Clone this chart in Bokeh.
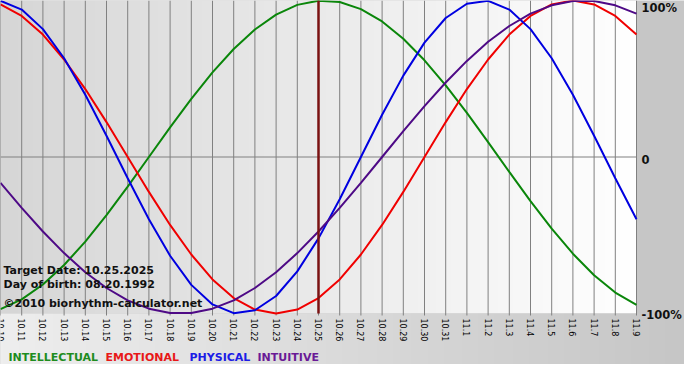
import math
import numpy as np
from bokeh.plotting import figure
from bokeh.models import Range1d
from bokeh.core.properties import value
from bokeh.embed import file_html
from bokeh.resources import INLINE

# ---- data ----
dates = ["10.10", "10.11", "10.12", "10.13", "10.14", "10.15", "10.16", "10.17",
         "10.18", "10.19", "10.20", "10.21", "10.22", "10.23", "10.24", "10.25",
         "10.26", "10.27", "10.28", "10.29", "10.30", "10.31", "11.1", "11.2",
         "11.3", "11.4", "11.5", "11.6", "11.7", "11.8", "11.9"]

intellectual = [-0.972, -0.910, -0.815, -0.690, -0.541, -0.372, -0.189, 0.0, 0.189,
                0.372, 0.541, 0.690, 0.815, 0.910, 0.972, 0.999, 0.990, 0.945, 0.866,
                0.756, 0.618, 0.458, 0.282, 0.095, -0.095, -0.282, -0.458, -0.618,
                -0.756, -0.866, -0.945]
emotional = [0.975, 0.901, 0.782, 0.623, 0.434, 0.223, 0.0, -0.223, -0.434, -0.623,
             -0.782, -0.901, -0.975, -1.0, -0.975, -0.901, -0.782, -0.623, -0.434,
             -0.223, 0.0, 0.223, 0.434, 0.623, 0.782, 0.901, 0.975, 1.0, 0.975,
             0.901, 0.782]
physical = [0.998, 0.942, 0.817, 0.631, 0.398, 0.136, -0.136, -0.398, -0.631, -0.817,
            -0.942, -0.998, -0.979, -0.888, -0.731, -0.520, -0.270, 0.0, 0.270, 0.520,
            0.731, 0.888, 0.979, 0.998, 0.942, 0.817, 0.631, 0.398, 0.136, -0.136,
            -0.398]
intuitive = [-0.165, -0.325, -0.476, -0.614, -0.736, -0.837, -0.916, -0.969, -0.997,
             -0.997, -0.969, -0.916, -0.837, -0.736, -0.614, -0.476, -0.325, -0.165,
             0.0, 0.165, 0.325, 0.476, 0.614, 0.736, 0.837, 0.916, 0.969, 0.997,
             0.997, 0.969, 0.916]

target_date = "10.25"
target_text = "Target Date: 10.25.2025"
birth_text = "Day of birth: 08.20.1992"
copyright_text = "\u00a92010 biorhythm-calculator.net"
y_labels = ["100%", "0", "-100%"]
legend_names = ["INTELLECTUAL", "EMOTIONAL", "PHYSICAL", "INTUITIVE"]
line_colors = ["#0a860a", "#f00000", "#0000e0", "#4e0a86"]
legend_colors = ["#1e8c1e", "#e81818", "#1c1ce6", "#6a1a96"]
all_series = [intellectual, emotional, physical, intuitive]

# ---- layout (pixels) ----
W, H = 684, 364
PW, PH = 636, 313          # plot area size, top-left at canvas origin
N = len(dates) - 1
FONT = value("DejaVu Sans")


def xd(px):
    return px * N / PW


def yd(py):
    return 1 - 2 * py / PH


x = list(range(len(dates)))

p = figure(width=W, height=H, output_backend="svg", toolbar_location=None,
           x_range=Range1d(0, xd(W)), y_range=Range1d(yd(H), 1),
           x_axis_location=None, y_axis_location=None,
           min_border=0, min_border_left=0, min_border_right=0,
           min_border_top=0, min_border_bottom=0,
           background_fill_color="#c6c6c6", border_fill_color="#c6c6c6",
           outline_line_color=None)
p.grid.visible = False


def hgrad(c0, c1, n=256):
    t = np.linspace(0, 1, n)
    g = (c0 + (c1 - c0) * t).astype(np.uint8)
    img = np.empty((1, n), dtype=np.uint32)
    v = img.view(dtype=np.uint8).reshape((1, n, 4))
    v[..., 0] = g
    v[..., 1] = g
    v[..., 2] = g
    v[..., 3] = 255
    return img


# plot-area gradient and bottom band gradient
p.image_rgba(image=[hgrad(0xd6, 0xff)], x=0, y=-1, dw=N, dh=2, level="image")
p.image_rgba(image=[hgrad(0xee, 0xc6)], x=0, y=yd(H), dw=xd(W), dh=-1 - yd(H),
             level="image")

# vertical grid lines (with small tick below the plot area)
p.segment(x0=x, y0=[yd(PH + 2)] * len(x), x1=x, y1=[1] * len(x),
          line_color="#808080", line_width=1)
# zero line
p.segment(x0=[0], y0=[0], x1=[N], y1=[0], line_color="#808080", line_width=1)

# curves
for vals, lc in zip(all_series, line_colors):
    p.line(x, vals, line_color=lc, line_width=2)

# target day line
ti = dates.index(target_date)
p.segment(x0=[ti], y0=[-1], x1=[ti], y1=[1], line_color="#7a1212", line_width=2.5)

# date tick labels (rotated, reading downwards)
p.text(x=x, y=[yd(PH + 5)] * len(x), text=dates, angle=-math.pi / 2,
       text_align="left", text_baseline="middle",
       text_font=FONT, text_font_size="8px", text_color="#000000")

# right-hand percentage labels
p.text(x=[xd(PW + 5)] * 3, y=[yd(7), yd(PH / 2 + 2), yd(PH + 1)], text=y_labels,
       text_align="left", text_baseline="middle",
       text_font=FONT, text_font_size="11.5px", text_font_style="bold",
       text_color="#111111")

# info texts
p.text(x=[xd(3)] * 3, y=[yd(270), yd(284), yd(303)],
       text=[target_text, birth_text, copyright_text],
       text_align="left", text_baseline="alphabetic",
       text_font=FONT, text_font_size="11px", text_font_style="bold",
       text_color="#111111")

# legend texts
p.text(x=[xd(8), xd(105), xd(189), xd(257)], y=[yd(357)] * 4, text=legend_names,
       text_color=legend_colors, text_align="left", text_baseline="alphabetic",
       text_font=FONT, text_font_size="11px", text_font_style="bold")

open("out.html", "w").write(file_html(p, INLINE))
